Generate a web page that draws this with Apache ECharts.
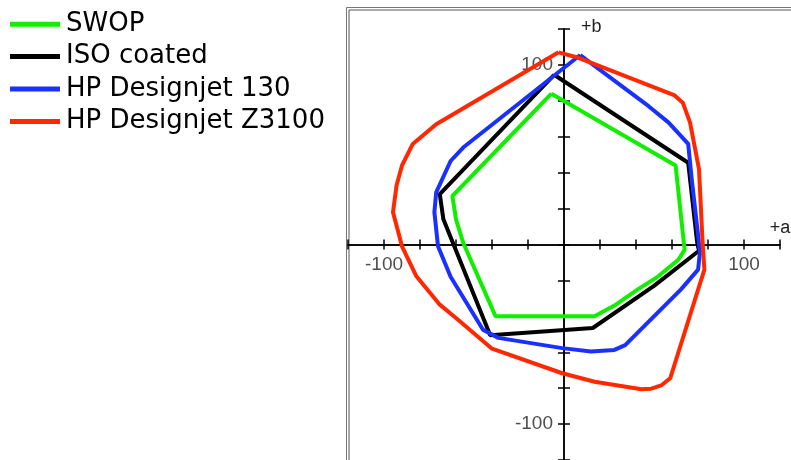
<!DOCTYPE html>
<html>
<head>
<meta charset="utf-8">
<script src="https://cdn.jsdelivr.net/npm/echarts@6/dist/echarts.min.js"></script>
<style>
  html, body { margin: 0; padding: 0; background: #fff; }
  #chart { width: 791px; height: 460px; }
</style>
</head>
<body>
<div id="chart"></div>
<script>
// gamut outlines in the a*b* plane, [a, b]
const swop = [[-7, 84], [62, 44], [67, -3], [63.5, -8.5], [52, -18], [41, -25], [28, -34], [17, -40],
  [-38, -40], [-56, 1], [-60, 14], [-62, 27], [-7, 84]];
const isoCoated = [[-5.5, 94.5], [69, 45.5], [74, 1], [75, -3.5], [50, -23], [16, -46.5], [-41, -50.5],
  [-67, 14], [-69, 28], [-5.5, 94.5]];
const hp130 = [[9, 105.5], [47, 77], [58, 68], [69, 56], [71, 36], [74.5, 5], [75.5, -4.5], [74.5, -14],
  [65, -25], [34, -56], [28, -58.7], [15, -59.6], [-1, -57.7], [-36.5, -52], [-45, -47.5], [-63, -18],
  [-70, -1], [-72, 18], [-71, 29], [-63, 46.5], [-56, 54], [9, 105.5]];
const hpZ3100 = [[-3, 107], [7, 104.3], [61.5, 83], [66, 79], [70, 68], [75, 42], [77, 1], [78, -14],
  [59, -74.5], [54, -78.5], [48.5, -80.3], [43, -80.6], [17, -76.4], [-1, -71.7], [-40, -58],
  [-58.7, -42], [-69, -33.5], [-82, -17.7], [-90, -1], [-95, 18], [-93, 33], [-90, 44], [-84, 56],
  [-71, 67], [-3, 107]];

const seriesNames = ["SWOP", "ISO coated", "HP Designjet 130", "HP Designjet Z3100"];
const seriesData = [swop, isoCoated, hp130, hpZ3100];
const colors = ["#11ee00", "#000000", "#1a30ff", "#ff2800"];
const labeledTicks = [-100, 100];

const axisFont = { fontFamily: "Liberation Sans", fontSize: 19, color: "#222" };
const nameFont = { fontFamily: "Liberation Sans", fontSize: 18, color: "#222" };

function xAxisDef(pos, withName) {
  return {
    type: "value", position: pos, min: -120, max: 120, interval: 20,
    axisLine: { onZero: true, lineStyle: { color: "#000", width: 1.5 } },
    axisTick: { show: true, inside: false, length: 5, lineStyle: { color: "#000", width: 1.5 } },
    axisLabel: { show: false },
    splitLine: { show: false },
    name: withName ? "+a" : "",
    nameLocation: "end",
    nameGap: 0,
    nameTextStyle: Object.assign({ align: "center", verticalAlign: "bottom", padding: [0, 0, 7, 0] }, nameFont)
  };
}

function yAxisDef(pos, withName) {
  return {
    type: "value", position: pos, min: -120, max: 120, interval: 20,
    axisLine: { onZero: true, lineStyle: { color: "#000", width: 1.5 } },
    axisTick: { show: true, inside: false, length: 6, lineStyle: { color: "#000", width: 1.5 } },
    axisLabel: { show: false },
    splitLine: { show: false },
    name: withName ? "+b" : "",
    nameLocation: "end",
    nameGap: 2,
    nameTextStyle: Object.assign({ align: "left", verticalAlign: "middle", padding: [0, 0, 0, 17] }, nameFont)
  };
}

// tick labels that sit on the crossing axes
function tickLabelSeries(points, position, distance) {
  return {
    type: "scatter",
    data: points,
    symbolSize: 0,
    silent: true,
    label: Object.assign({
      show: true, position: position, distance: distance,
      formatter: p => String(p.value[0] !== 0 ? p.value[0] : p.value[1])
    }, axisFont)
  };
}

const chart = echarts.init(document.getElementById("chart"));
chart.setOption({
  animation: false,
  grid: { left: 348, top: 29, width: 432, height: 431, outerBoundsMode: "none", containLabel: false },
  legend: {
    orient: "vertical", left: 5, top: 3,
    icon: "rect", itemWidth: 50, itemHeight: 5, itemGap: 0,
    textStyle: { fontFamily: "DejaVu Sans", fontSize: 26, lineHeight: 32.4, color: "#000", padding: [0, 0, 0, 1] },
    data: seriesNames
  },
  graphic: [
    { type: "rect", left: 344, top: 5, shape: { width: 460, height: 470 },
      style: { fill: "none", stroke: "#777", lineWidth: 1 } },
    { type: "rect", left: 346.5, top: 7.5, shape: { width: 460, height: 470 },
      style: { fill: "none", stroke: "#555", lineWidth: 1 } }
  ],
  xAxis: [xAxisDef("bottom", true), xAxisDef("top", false)],
  yAxis: [yAxisDef("left", true), yAxisDef("right", false)],
  series: seriesNames.map((name, i) => ({
    name: name,
    type: "line",
    data: seriesData[i],
    showSymbol: false,
    symbol: "none",
    color: colors[i],
    lineStyle: { color: colors[i], width: 4 }
  })).concat([
    tickLabelSeries(labeledTicks.map(v => [v, 0]), "bottom", 11),
    tickLabelSeries(labeledTicks.map(v => [0, v]), "left", 11)
  ])
});
</script>
</body>
</html>
